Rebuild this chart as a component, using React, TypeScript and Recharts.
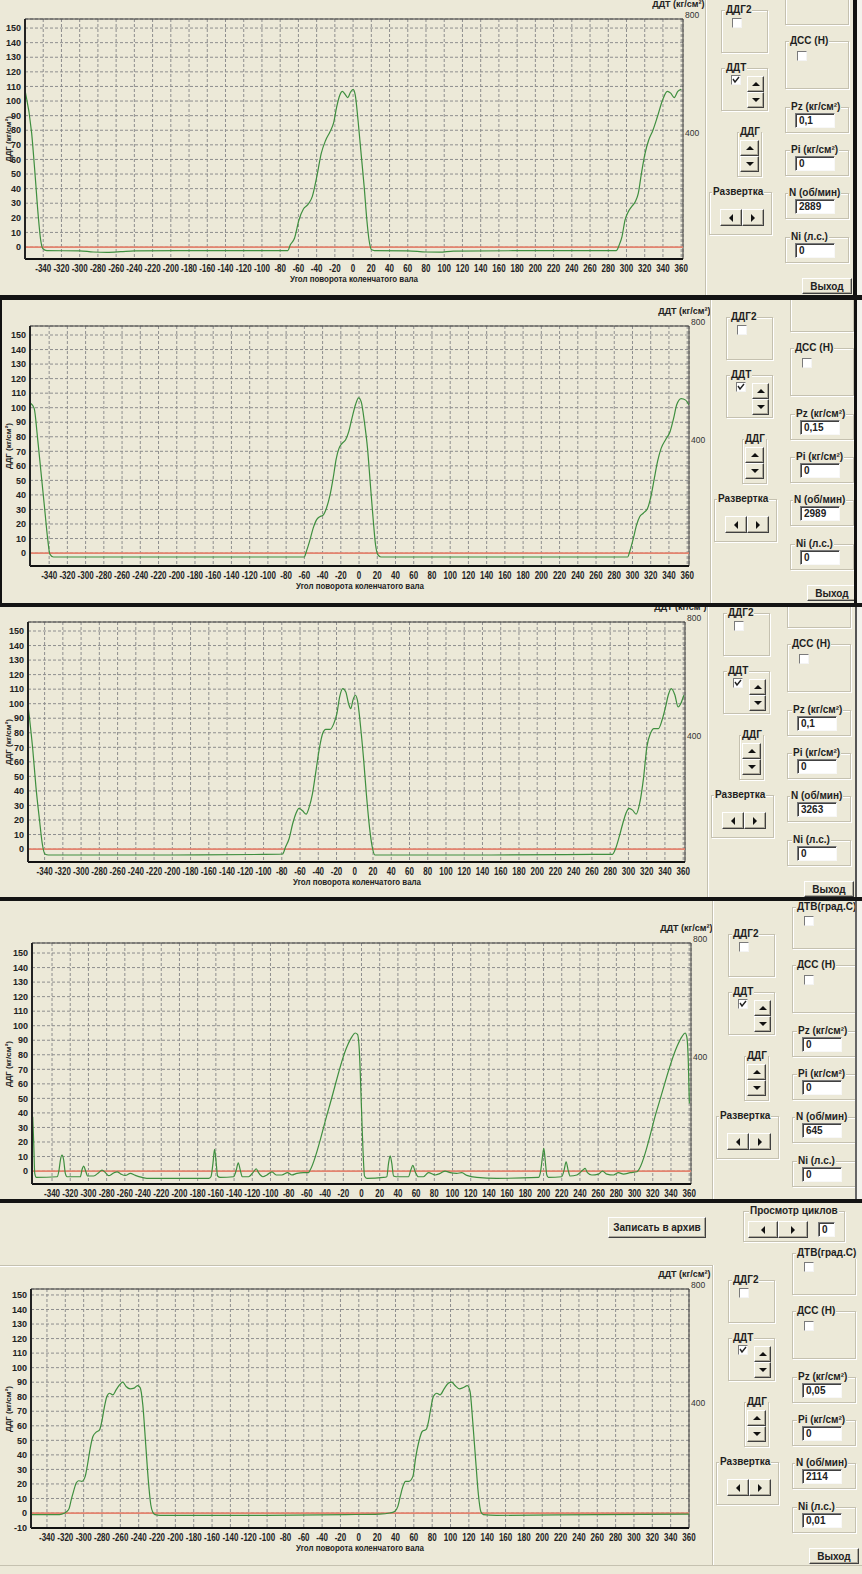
import React from "react";
import { CartesianGrid, Line, LineChart, ReferenceArea, ReferenceLine, XAxis, YAxis } from "recharts";

const FONT = '"Liberation Sans", Arial, sans-serif';
const BG = "#ece9d8";

// crank angle (deg) -> DDG pressure (kg/cm2), one list per captured screen
const run2889: [number, number][] = [
  [-360, 107.5], [-352.7, 78], [-349, 50], [-345.4, 20.8], [-342.8, 4.8], [-340.6, -0.9], [-336, -2.5],
  [-300, -2.6], [-285, -3.4], [-270, -3.6], [-255, -3.2], [-240, -2.6], [-150, -2.5], [-71.6, -2.5],
  [-69, 1.4], [-64.3, 6], [-59.4, 18.5], [-54.5, 26], [-49.7, 29], [-44.8, 34.5], [-39.9, 48], [-35, 64],
  [-30.2, 73], [-25.3, 79], [-21.4, 85], [-18, 96], [-14.6, 104], [-11.7, 106.6], [-9.2, 105], [-5.8, 102.4],
  [-2.9, 106], [0, 108], [2.4, 104], [5.4, 87], [8.8, 64], [12.2, 41], [15.1, 18.5], [17.5, 4.8], [20, -1.6],
  [23.4, -2.5], [60, -2.6], [80, -3.4], [95, -3.5], [110, -2.8], [200, -2.5], [288.7, -2.5], [292, 1.4],
  [295, 7], [298.4, 18.5], [301.8, 24], [305.7, 27.7], [309.6, 31], [313, 37], [316.4, 50.5], [320.3, 64],
  [324.2, 73], [329, 80], [334, 89.4], [339.8, 101], [344.7, 106.6], [348.5, 105.4], [352.4, 102.4],
  [356.3, 106.6], [360, 108],
];

const run2989: [number, number][] = [
  [-360, 102.9], [-356.4, 99.5], [-353, 81], [-349, 56], [-345, 31], [-341.7, 10.3], [-339.2, -0.7],
  [-335.3, -2.7], [-250, -2.7], [-150, -2.7], [-60.2, -2.7], [-57.8, 1.1], [-54.3, 8], [-50.4, 17],
  [-46.5, 23], [-43.1, 25], [-39.6, 26], [-35.7, 31], [-31.8, 40], [-28.4, 51.5], [-25, 65], [-22, 72],
  [-18.6, 75.5], [-14.7, 78], [-11.3, 83.5], [-7.8, 92.6], [-3.9, 102], [-0.5, 106.8], [2.4, 104], [5.9, 90],
  [9.3, 72], [12.2, 49], [15.7, 21.7], [18.1, 5.7], [20.6, -1.1], [24, -2.7], [150, -2.7], [294.7, -2.7],
  [297, 1.1], [301, 10.3], [304.5, 19.4], [307.9, 25], [311.8, 27.4], [316.7, 31], [320.6, 40], [324, 51.5],
  [327.5, 63], [331.4, 72], [336.3, 78], [341.2, 83.5], [345.1, 92.6], [348.5, 102], [353.4, 106.3],
  [358.3, 105.2], [362, 101.8],
];

const run3263: [number, number][] = [
  [-359.3, 104.6], [-356.3, 88.6], [-352.9, 68], [-349.5, 42.8], [-345.6, 20], [-342.6, 3.9], [-339.7, -3.4],
  [-335.8, -4.1], [-200, -4.1], [-100, -3.7], [-79.2, -3.4], [-75.8, 1.6], [-71.9, 7.3], [-68, 17.6],
  [-64.5, 24.5], [-61.1, 28], [-57.2, 26.3], [-53.3, 24], [-49.9, 29], [-46.4, 38], [-42.5, 54], [-38.6, 70],
  [-35.2, 79.5], [-31.8, 82.4], [-26.9, 82.4], [-23, 86.3], [-19.6, 93.2], [-16.6, 104.6], [-13.2, 110.4],
  [-9.8, 108], [-6.8, 100], [-4.4, 96.6], [-2, 102.4], [0.5, 105.8], [2.9, 102.4], [6.4, 84], [9.8, 61],
  [12.7, 38], [16.1, 15.3], [19.1, 1.6], [22, -4.1], [150, -4.1], [260, -3.7], [282.5, -3.6], [286, 0.5],
  [289.9, 8.5], [293.8, 17.6], [297.2, 24.5], [300.6, 28], [304.5, 26.8], [308.4, 24], [312.3, 31.4],
  [316.7, 49.7], [320.2, 70.3], [324.1, 79.5], [328, 82.9], [332.9, 82.9], [336.8, 88.6], [340.7, 97.8],
  [343.6, 105.8], [347, 110.4], [351, 105.8], [354.4, 97.8], [357.3, 100], [360.7, 105.8],
];

const run645: [number, number][] = [
  [-361.2, 37.3], [-360.1, 19], [-359, -1.6], [-357.2, -4.4], [-334.5, -3.9], [-332.3, 0.7], [-330.8, 7.6],
  [-329, 11], [-327.2, 7.6], [-325.4, -1.6], [-323.5, -3.9], [-308.9, -3.9], [-307, 1.1], [-305.2, 3.4],
  [-303.4, 0.7], [-300.8, -3.4], [-294.3, -3.4], [-288.8, -1.1], [-285.1, 0.7], [-281.4, -1.1], [-277.8, -3.2],
  [-273, -1.6], [-268.6, -0.5], [-264.2, -2.1], [-259.5, -3], [-254, -1.6], [-248.5, -3], [-241.2, -4.4],
  [-235.7, -5], [-168, -5], [-165.4, -3.9], [-163.2, 5.3], [-161.4, 14.9], [-159.6, 5.3], [-158.1, -3.4],
  [-155.2, -4.4], [-140.5, -3.9], [-137.6, 0.7], [-135.4, 5.7], [-133.2, 0.7], [-131, -3.9], [-124.1, -3.9],
  [-118.6, -0.5], [-115.6, 1.6], [-113.1, -1.1], [-108.3, -3.9], [-103.9, -2.7], [-98.4, -0.5], [-93.7, -2.7],
  [-87.5, -2.7], [-81.2, -1.1], [-76.5, -2.7], [-71, -1.6], [-63.7, -1.1], [-58.2, -1.1], [-56.4, 0.7],
  [-36, 43], [-16.1, 85.4], [-10.6, 92.3], [-7, 95], [-4.4, 94.1], [-2.2, 80.8], [-0.7, 55.6], [0.8, 28.2],
  [2.3, 5.3], [3.3, -3.4], [5.9, -5], [24.2, -4.4], [27.8, -3.9], [29.7, 5.3], [31.5, 10.5], [33.3, 5.3],
  [35.2, -3.4], [38.1, -3.9], [51.6, -3.9], [54.2, 0.7], [56.4, 3.9], [59, -0.5], [62.6, -3.9], [68.1, -3.9],
  [73.6, -1.1], [80.9, -2.7], [86.4, -1.6], [91.9, 0], [97.4, -1.1], [104.7, -1.6], [110.2, -1.1], [115.7, -3],
  [126.7, -4.4], [148.7, -5], [194.4, -4.4], [197, 0.7], [198.8, 9.8], [200.3, 15.6], [201.8, 7.6],
  [203.6, -2.7], [205.4, -4.4], [220, -3.9], [222.6, 0.7], [224.8, 6.4], [227, 0.7], [229.2, -3.4],
  [236.6, -2.7], [243.2, 0.7], [245.7, 1.8], [248.2, -1.1], [253, -2.7], [260.3, -2.1], [264.7, 0],
  [269.5, -2.1], [276.8, -2.7], [282.3, -1.1], [287.8, -2.1], [295.2, -1.1], [302.5, -0.5], [304.3, 0.7],
  [325, 43], [346.4, 85.4], [351.9, 92.3], [355.5, 95], [357.4, 92.3], [359.1, 74], [360.2, 46.5],
];

const run2114: [number, number][] = [
  [-357.4, -1.1], [-329.1, -1.1], [-323.7, -0.7], [-318.2, 1.1], [-315.7, 3.4], [-313.5, 9.2], [-311, 14.9],
  [-308.1, 20.6], [-305.5, 22.2], [-301.9, 21.8], [-298.3, 25.2], [-295.8, 33.2], [-292.8, 44.7],
  [-289.9, 52.7], [-286.3, 55.6], [-282.7, 57.2], [-280.2, 63], [-277.6, 72.1], [-274.7, 80.1],
  [-271.8, 82.4], [-268.2, 81.3], [-264.6, 84.7], [-260.9, 88.2], [-257.3, 90], [-253.7, 87], [-249.3, 85.4],
  [-245, 85.9], [-241.3, 87.7], [-238.4, 86.3], [-235.5, 74.4], [-232.3, 46.9], [-229.4, 21.8],
  [-226.8, 5.7], [-224.7, 0.7], [-222.1, -1.1], [-216.7, -1.6], [-100, -1.6], [-13.6, -1.1], [22.7, -0.7],
  [33.6, 0], [39, 1.1], [42.6, 4.6], [45.2, 11.4], [48.1, 18.3], [51, 21.8], [54.6, 21.8], [59, 25.2],
  [61.9, 37.8], [65.5, 49.2], [69.1, 56.1], [73.5, 57.5], [76, 63], [78.5, 72], [81.3, 80.1], [85, 82.4],
  [88.6, 81.3], [93, 85.4], [97.6, 89.3], [101.3, 90], [104.9, 87.7], [109.6, 85.4], [114, 86.3],
  [118.3, 87.7], [121.3, 83.6], [124.2, 63], [127.5, 35.5], [130.4, 12.6], [133, 1.1], [135.8, -1.1],
  [150.4, -1.6], [259.5, -1.1], [360, -0.7],
];

const angleTicks = [
  -340, -320, -300, -280, -260, -240, -220, -200, -180, -160, -140, -120, -100, -80, -60, -40, -20, 0,
  20, 40, 60, 80, 100, 120, 140, 160, 180, 200, 220, 240, 260, 280, 300, 320, 340, 360,
];
const ddgTicks = [0, 10, 20, 30, 40, 50, 60, 70, 80, 90, 100, 110, 120, 130, 140, 150];
const ddgTicksLow = [-10, 0, 10, 20, 30, 40, 50, 60, 70, 80, 90, 100, 110, 120, 130, 140, 150];
const ddtTicks = [400, 800];

const curves = [run2889, run2989, run3263, run645, run2114];
const pzValues = ["0,1", "0,15", "0,1", "0", "0,05"];
const piValues = ["0", "0", "0", "0", "0"];
const rpmValues = ["2889", "2989", "3263", "645", "2114"];
const niValues = ["0", "0", "0", "0", "0,01"];
const cycleValue = "0";

type Panel = {
  top: number; bottom: number;
  l: number; t: number; r: number; b: number;
  x0: number; x1: number; y0: number; y1: number;
  cx: number; frame: string; frameW: number; leftFrame?: boolean;
  dtvLabel: boolean; title: boolean; exit: boolean;
};

const panels: Panel[] = [
  { top: 0, bottom: 295, l: 25, t: 19, r: 683, b: 259, x0: -360, x1: 362, y0: -8.2, y1: 156.2, cx: 721, frame: "#111", frameW: 4, dtvLabel: false, title: true, exit: true },
  { top: 300, bottom: 603, l: 30, t: 326, r: 689, b: 566, x0: -361, x1: 362, y0: -8.9, y1: 156.2, cx: 726, frame: "#111", frameW: 3, leftFrame: true, dtvLabel: false, title: true, exit: true },
  { top: 607, bottom: 897, l: 28, t: 622, r: 685, b: 862, x0: -358.2, x1: 362, y0: -8.9, y1: 156.2, cx: 723, frame: "#555", frameW: 2, dtvLabel: false, title: true, exit: true },
  { top: 901, bottom: 1199, l: 32, t: 943, r: 691, b: 1184, x0: -362, x1: 362, y0: -8.9, y1: 156.9, cx: 728, frame: "#666", frameW: 2, dtvLabel: true, title: false, exit: false },
  { top: 1203, bottom: 1574, l: 31, t: 1289, r: 689, b: 1528, x0: -357.4, x1: 360, y0: -10.3, y1: 154.1, cx: 728, frame: "", frameW: 0, dtvLabel: true, title: true, exit: true },
];

const bars = [
  { y: 295, h: 5 },
  { y: 603, h: 4 },
  { y: 897, h: 4 },
  { y: 1199, h: 4 },
];

function AngleTick(props: any) {
  const { x, y, payload } = props;
  return (
    <text
      transform={`translate(${x},${y + 12.5}) scale(0.8,1)`}
      textAnchor="middle"
      fontSize={10}
      fontWeight={700}
      fill="#222"
      fontFamily={FONT}
    >
      {payload.value}
    </text>
  );
}

function DdtTick(props: any) {
  const { x, y, payload } = props;
  return (
    <text x={x} y={y} dy="0.35em" textAnchor="start" fontSize={8.5} fill="#333" fontFamily={FONT}>
      {payload.value}
    </text>
  );
}

function PressureChart({ p, curve, yTicks }: { p: Panel; curve: [number, number][]; yTicks: number[] }) {
  const padTop = 30;
  const axisH = 30;
  const rightW = 40;
  const plotH = p.b - p.t;
  const data = curve.map(([angle, ddg]) => ({ angle, ddg }));
  const ddtTop = 786;
  const ddtDomain = [ddtTop - (plotH * 400) / 118, ddtTop];
  return (
    <div style={{ position: "absolute", left: 0, top: p.t - padTop - p.top }}>
      <LineChart
        width={p.r + rightW}
        height={plotH + padTop + axisH}
        data={data}
        margin={{ top: padTop, right: 0, bottom: 0, left: 0 }}
      >
        <CartesianGrid yAxisId="ddg" stroke="#8e8e8e" strokeDasharray="3 2" />
        <XAxis
          type="number"
          dataKey="angle"
          domain={[p.x0, p.x1]}
          ticks={angleTicks}
          interval={0}
          allowDataOverflow
          height={axisH}
          tickSize={0}
          tickMargin={0}
          tickLine={false}
          axisLine={{ stroke: "#111", strokeWidth: 2 }}
          tick={(t: any) => <AngleTick {...t} />}
        />
        <YAxis
          yAxisId="ddg"
          type="number"
          domain={[p.y0, p.y1]}
          ticks={yTicks}
          interval={0}
          allowDataOverflow
          width={p.l}
          tickSize={0}
          tickMargin={4}
          tickLine={false}
          axisLine={{ stroke: "#222", strokeWidth: 2 }}
          tick={{ fontSize: 9, fontWeight: 700, fill: "#222", fontFamily: FONT }}
        />
        <YAxis
          yAxisId="ddt"
          orientation="right"
          type="number"
          domain={ddtDomain}
          ticks={ddtTicks}
          interval={0}
          allowDataOverflow
          width={rightW}
          tickSize={0}
          tickMargin={2}
          tickLine={false}
          axisLine={false}
          tick={(t: any) => <DdtTick {...t} />}
        />
        <ReferenceArea
          yAxisId="ddg"
          x1={p.x0}
          x2={p.x1}
          y1={p.y0}
          y2={p.y1}
          fill="none"
          stroke="#3a3a3a"
          ifOverflow="visible"
        />
        <ReferenceLine yAxisId="ddg" y={0} stroke="#e4846f" strokeWidth={1.8} />
        <Line
          yAxisId="ddg"
          dataKey="ddg"
          type="monotone"
          stroke="#3f8f3f"
          strokeWidth={1.2}
          dot={false}
          isAnimationActive={false}
        />
      </LineChart>
    </div>
  );
}

const raised: React.CSSProperties = {
  position: "absolute",
  boxSizing: "border-box",
  background: BG,
  borderTop: "1px solid #fff",
  borderLeft: "1px solid #fff",
  borderRight: "1px solid #404040",
  borderBottom: "1px solid #404040",
  boxShadow: "inset -1px -1px 0 #aca899",
  display: "flex",
  alignItems: "center",
  justifyContent: "center",
};

function Tri({ dir }: { dir: "up" | "down" | "left" | "right" }) {
  const pts = {
    up: "0,5 8,5 4,1",
    down: "0,1 8,1 4,5",
    left: "6,0 6,8 2,4",
    right: "2,0 2,8 6,4",
  }[dir];
  return (
    <svg width={8} height={dir === "up" || dir === "down" ? 6 : 8}>
      <polygon points={pts} fill="#111" />
    </svg>
  );
}

function Group({ x, y, w, h, label, lx = 5 }: { x: number; y: number; w: number; h: number; label?: string; lx?: number }) {
  return (
    <div
      style={{
        position: "absolute",
        left: x,
        top: y,
        width: w,
        height: h,
        boxSizing: "border-box",
        border: "1px solid #c5c1b0",
        boxShadow: "inset 1px 1px 0 #fff, 1px 1px 0 #fff",
      }}
    >
      {label && (
        <span
          style={{
            position: "absolute",
            left: lx,
            top: -7,
            padding: "0 1px",
            background: BG,
            fontSize: 10,
            lineHeight: "12px",
            fontWeight: 700,
            color: "#1e1e1e",
            whiteSpace: "nowrap",
          }}
        >
          {label}
        </span>
      )}
    </div>
  );
}

function Check({ x, y, on }: { x: number; y: number; on?: boolean }) {
  return (
    <div
      style={{
        position: "absolute",
        left: x,
        top: y,
        width: 10,
        height: 10,
        boxSizing: "border-box",
        background: "#fff",
        borderTop: "1px solid #7a7a7a",
        borderLeft: "1px solid #7a7a7a",
        borderRight: "1px solid #f4f4f4",
        borderBottom: "1px solid #f4f4f4",
      }}
    >
      {on && (
        <svg width={8} height={8} style={{ position: "absolute", left: 0, top: 0 }}>
          <polyline points="1,3 3,6 7,1" fill="none" stroke="#222" strokeWidth={1.4} />
        </svg>
      )}
    </div>
  );
}

function Field({ x, y, value, w = 40 }: { x: number; y: number; value: string; w?: number }) {
  return (
    <div
      style={{
        position: "absolute",
        left: x,
        top: y,
        width: w,
        height: 15,
        boxSizing: "border-box",
        background: "#fff",
        borderTop: "1px solid #7a7a7a",
        borderLeft: "1px solid #7a7a7a",
        borderRight: "1px solid #f8f8f8",
        borderBottom: "1px solid #f8f8f8",
        boxShadow: "inset 1px 1px 0 #404040",
        fontSize: 10,
        fontWeight: 700,
        lineHeight: "13px",
        paddingLeft: 3,
        color: "#222",
      }}
    >
      {value}
    </div>
  );
}

function Spin({ x, y, w = 17 }: { x: number; y: number; w?: number }) {
  return (
    <>
      <div style={{ ...raised, left: x, top: y, width: w, height: 16 }}>
        <Tri dir="up" />
      </div>
      <div style={{ ...raised, left: x, top: y + 16, width: w, height: 16 }}>
        <Tri dir="down" />
      </div>
    </>
  );
}

function Arrows({ x, y, w }: { x: number; y: number; w: number }) {
  return (
    <>
      <div style={{ ...raised, left: x, top: y, width: w / 2, height: 17 }}>
        <Tri dir="left" />
      </div>
      <div style={{ ...raised, left: x + w / 2, top: y, width: w / 2, height: 17 }}>
        <Tri dir="right" />
      </div>
    </>
  );
}

function Btn({ x, y, w, h, text }: { x: number; y: number; w: number; h: number; text: string }) {
  return (
    <div style={{ ...raised, left: x, top: y, width: w, height: h, fontSize: 10, fontWeight: 700, color: "#222" }}>
      {text}
    </div>
  );
}

function Screen({ p, i }: { p: Panel; i: number }) {
  const oy = p.top;
  const ty = p.t - oy;
  const cx = p.cx;
  const height = p.bottom - p.top;
  const last = i === panels.length - 1;
  const sepTop = last ? ty - 24 : 0;
  const sepBottom = last ? 1565 - oy : height;
  return (
    <div style={{ position: "absolute", left: 0, top: p.top, width: 862, height, overflow: "hidden" }}>
      {last && (
        <div style={{ position: "absolute", left: 0, top: ty - 24, width: cx - 16, height: 1, background: "#fff", borderTop: "1px solid #c5c1b0" }} />
      )}
      <PressureChart p={p} curve={curves[i]} yTicks={last ? ddgTicksLow : ddgTicks} />

      <div
        style={{
          position: "absolute",
          left: 8,
          top: (p.t + p.b) / 2 - oy,
          transform: "translate(-50%,-50%) rotate(-90deg)",
          fontSize: 8,
          fontWeight: 700,
          color: "#222",
          whiteSpace: "nowrap",
        }}
      >
        ДДГ (кг/см²)
      </div>
      {p.title && (
        <div
          style={{
            position: "absolute",
            left: (p.l + p.r) / 2,
            top: p.b + 20 - oy,
            transform: "translate(-50%,-50%) scaleX(0.88)",
            fontSize: 9,
            fontWeight: 700,
            color: "#222",
            whiteSpace: "nowrap",
          }}
        >
          Угол поворота коленчатого вала
        </div>
      )}
      <div
        style={{
          position: "absolute",
          right: 862 - (p.r + 21.5),
          top: ty - 15,
          transform: "translateY(-50%)",
          fontSize: 9,
          fontWeight: 700,
          color: "#222",
          whiteSpace: "nowrap",
        }}
      >
        ДДТ (кг/см²)
      </div>

      <div style={{ position: "absolute", left: cx - 16, top: sepTop, width: 1, height: sepBottom - sepTop, background: "#c5c1b0", borderRight: "1px solid #fff" }} />

      <Group x={cx + 64} y={ty - 36} w={64} h={42} label={p.dtvLabel ? "ДТВ(град.С)" : undefined} lx={3} />
      {p.dtvLabel && <Check x={cx + 76} y={ty - 27} />}
      <Group x={cx} y={ty - 9} w={47} h={43} label="ДДГ2" lx={3} />
      <Check x={cx + 11} y={ty - 1} />
      <Group x={cx + 64} y={ty + 22} w={64} h={48} label="ДСС (Н)" lx={3} />
      <Check x={cx + 76} y={ty + 32} />
      <Group x={cx} y={ty + 49} w={47} h={43} label="ДДТ" lx={3} />
      <Check x={cx + 10} y={ty + 56} on />
      <Spin x={cx + 26} y={ty + 57} />
      <Group x={cx + 16} y={ty + 113} w={25} h={45} label="ДДГ" lx={1} />
      <Spin x={cx + 19} y={ty + 121} w={19} />
      <Group x={cx - 12} y={ty + 173} w={63} h={43} label="Развертка" lx={2} />
      <Arrows x={cx - 1} y={ty + 190} w={44} />

      <Group x={cx + 64} y={ty + 88} w={64} h={26} label="Pz (кг/см²)" lx={4} />
      <Field x={cx + 74} y={ty + 94} value={pzValues[i]} />
      <Group x={cx + 64} y={ty + 131} w={64} h={26} label="Pi (кг/см²)" lx={4} />
      <Field x={cx + 74} y={ty + 137} value={piValues[i]} />
      <Group x={cx + 64} y={ty + 174} w={64} h={26} label="N (об/мин)" lx={2} />
      <Field x={cx + 74} y={ty + 180} value={rpmValues[i]} />
      <Group x={cx + 64} y={ty + 218} w={64} h={26} label="Ni (л.с.)" lx={4} />
      <Field x={cx + 74} y={ty + 224} value={niValues[i]} />
      {p.exit && <Btn x={cx + 81} y={ty + 259} w={50} h={16} text="Выход" />}

      {last && (
        <>
          <Btn x={608} y={ty - 72} w={98} h={21} text="Записать в архив" />
          <Group x={cx + 15} y={ty - 78} w={102} h={31} label="Просмотр циклов" lx={5} />
          <Arrows x={cx + 20} y={ty - 68} w={60} />
          <Field x={cx + 90} y={ty - 67} value={cycleValue} w={17} />
          <div style={{ position: "absolute", left: 0, top: 1565 - oy, width: 862, height: 1, background: "#c5c1b0" }} />
        </>
      )}

      {p.frameW > 0 && (
        <>
          <div style={{ position: "absolute", left: 853 + (4 - p.frameW), top: 0, width: p.frameW, height, background: p.frame }} />
          <div style={{ position: "absolute", left: 857, top: 0, width: 5, height, background: "#f3f2ec" }} />
        </>
      )}
      {p.leftFrame && <div style={{ position: "absolute", left: 0, top: 0, width: 2, height, background: p.frame }} />}
    </div>
  );
}

export default function App() {
  return (
    <div
      style={{
        position: "relative",
        width: 862,
        height: 1574,
        background: BG,
        overflow: "hidden",
        fontFamily: FONT,
      }}
    >
      <style>{"body{margin:0}"}</style>
      {panels.map((p, i) => (
        <Screen key={i} p={p} i={i} />
      ))}
      {bars.map((bar, i) => (
        <div key={i} style={{ position: "absolute", left: 0, top: bar.y, width: 862, height: bar.h, background: "#141414" }} />
      ))}
    </div>
  );
}
